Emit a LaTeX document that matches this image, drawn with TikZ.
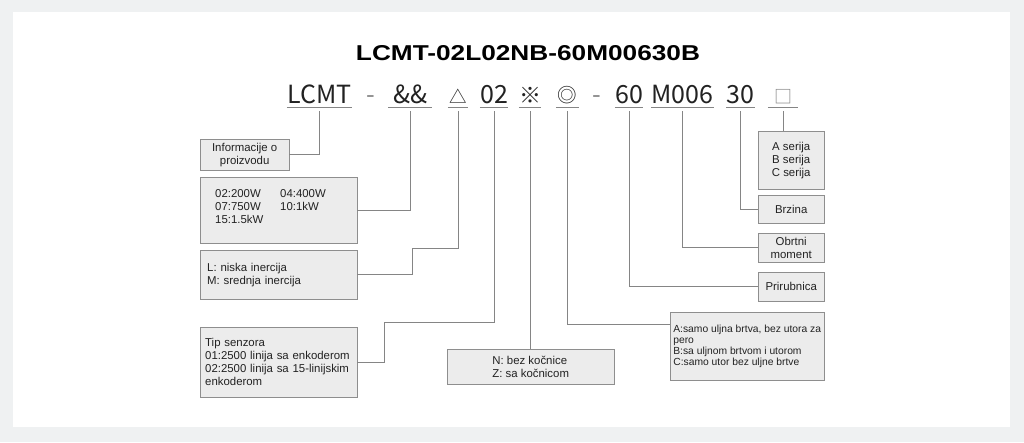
\documentclass[tikz,border=0pt]{standalone}
\usepackage{fontspec}
\usepackage{xcolor}
\usepackage{tikz}
\setmainfont{Liberation Sans}
\newfontfamily\codefont{Noto Sans CJK SC}
\definecolor{pagegray}{HTML}{EFF1F2}
\definecolor{boxfill}{HTML}{ECECEC}
\definecolor{boxline}{HTML}{8E8E8E}
\definecolor{linegray}{HTML}{858585}
\definecolor{textdark}{HTML}{222222}
\tikzstyle{infobox} = [rectangle,
    anchor=north west,
    inner xsep=2pt,
    inner ysep=0pt,
    draw=boxline,
    fill=boxfill,
    text=textdark,
    font=\fontsize{11.4}{13}\selectfont]
\tikzstyle{token} = [anchor=base,
    inner sep=0pt,
    text depth=4pt,
    text=textdark,
    font=\codefont\fontsize{25}{25}\selectfont]
\tikzstyle{connector} = [draw=linegray, line width=1pt]
\tikzstyle{underline} = [draw=linegray, line width=1pt]
\newcommand{\smallsym}[2]{\scalebox{#1}{#2}}

\begin{document}
\begin{tikzpicture}[x=1pt, y=-1pt]
        % page
        \fill[pagegray] (0,0) rectangle (1024,442);
        \fill[white] (13,12) rectangle (1010,427);

        \node (title) [anchor=base, inner sep=0pt, text=black] at (528,60)
        {\fontsize{21.5}{21.5}\selectfont\bfseries\scalebox{1.22}[1]{LCMT-02L02NB-60M00630B}};

        % code line
        \node (lcmt) [token, minimum width=65pt] at (319.5,103) {LCMT};
        \node (dashA) [token, text=linegray] at (371,103) {-};
        \node (amp) [token, minimum width=43pt] at (410,103) {\&\&};
        \node (tri) [token, minimum width=20pt] at (458,103) {\smallsym{0.7}{△}};
        \node (num) [token, minimum width=28pt] at (494,103) {02};
        \node (ref) [token, minimum width=20pt] at (530,103) {\smallsym{0.88}{※}};
        \node (circ) [token, minimum width=23pt] at (567.5,103) {\raisebox{1pt}{\smallsym{0.78}{◎}}};
        \node (dashB) [token, text=linegray] at (596.5,103) {-};
        \node (flg) [token, minimum width=22pt] at (629,103) {60};
        \node (trq) [token, minimum width=59pt] at (682.5,103) {M006};
        \node (spd) [token, minimum width=25pt] at (740.5,103) {30};
        \node (ser) [token, minimum width=30pt, text=linegray] at (783,103) {\smallsym{0.72}{□}};

        \foreach \t in {lcmt,amp,tri,num,ref,circ,flg,trq,spd,ser}
            \draw [underline] (\t.south west) -- (\t.south east);

        % left boxes
        \node (info) [infobox, minimum width=89pt, minimum height=31pt, align=center] at (200,139)
        {Informacije o\\proizvodu};
        \node (power) [infobox, minimum width=157pt, minimum height=66pt, inner xsep=15pt,
            text width=127pt, align=left] at (200,177)
        {\makebox[65pt][l]{02:200W}04:400W\\\makebox[65pt][l]{07:750W}10:1kW\\15:1.5kW\\[-5pt]\mbox{}};
        \node (inertia) [infobox, minimum width=157pt, minimum height=49pt, inner xsep=7pt,
            text width=143pt, align=left] at (200,250)
        {L: niska inercija\\M: srednja inercija};
        \node (sensor) [infobox, minimum width=157pt, minimum height=70pt, inner xsep=5pt,
            text width=147pt, align=left] at (200,327)
        {Tip senzora\\01:2500 linija sa enkoderom\\02:2500 linija sa 15-linijskim\\enkoderom};

        % bottom boxes
        \node (brake) [infobox, minimum width=167pt, minimum height=35pt, align=left] at (447,349)
        {N: bez kočnice\\Z: sa kočnicom};
        \node (seal) [infobox, minimum width=154pt, minimum height=68pt, align=left,
            font=\fontsize{10.3}{11}\selectfont] at (670,312)
        {A:samo uljna brtva, bez utora za\\pero\\B:sa uljnom brtvom i utorom\\C:samo utor bez uljne brtve};

        % right boxes
        \node (series) [infobox, minimum width=66pt, minimum height=58pt, align=center] at (758,131)
        {A serija\\B serija\\C serija};
        \node (speed) [infobox, minimum width=66pt, minimum height=28pt] at (758,195) {Brzina};
        \node (torque) [infobox, minimum width=66pt, minimum height=29pt, align=center] at (758,233)
        {Obrtni\\moment};
        \node (flange) [infobox, minimum width=66pt, minimum height=29pt] at (758,272) {Prirubnica};

        \coordinate (triBend) at (412,248);
        \coordinate (numBend) at (384,322);

        \draw [connector] ([yshift=-4pt]lcmt.south) |- (info.east);
        \draw [connector] ([yshift=-4pt]amp.south) |- (power.east);
        \draw [connector] ([yshift=-4pt]tri.south) |- (triBend) |- (inertia.east);
        \draw [connector] ([yshift=-4pt]num.south) |- (numBend) |- (sensor.east);
        \draw [connector] ([yshift=-4pt]ref.south) -- (ref.south |- brake.north);
        \draw [connector] ([yshift=-4pt]circ.south) |- ([yshift=-12pt]seal.north west);
        \draw [connector] ([yshift=-4pt]flg.south) |- (flange.west);
        \draw [connector] ([yshift=-4pt]trq.south) |- (torque.west);
        \draw [connector] ([yshift=-4pt]spd.south) |- (speed.west);
        \draw [connector] ([yshift=-4pt]ser.south) -- (ser.south |- series.north);
    \end{tikzpicture}
\end{document}
